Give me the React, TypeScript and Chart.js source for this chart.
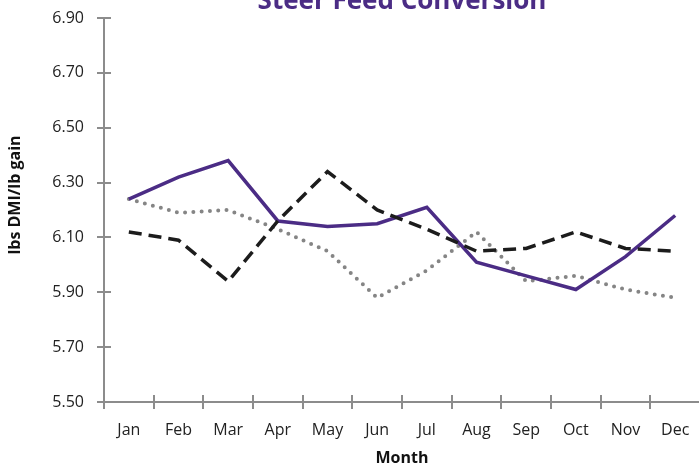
import React, { useEffect, useRef } from "react";
import { Chart, registerables } from "chart.js";

Chart.register(...registerables);

// Monthly feed conversion, lbs of dry matter intake per lb of gain
const months = ["Jan", "Feb", "Mar", "Apr", "May", "Jun", "Jul", "Aug", "Sep", "Oct", "Nov", "Dec"];
const seriesSolid = [6.24, 6.32, 6.38, 6.16, 6.14, 6.15, 6.21, 6.01, 5.96, 5.91, 6.03, 6.18];
const seriesDashed = [6.12, 6.09, 5.94, 6.16, 6.34, 6.2, 6.13, 6.05, 6.06, 6.12, 6.06, 6.05];
const seriesDotted = [6.24, 6.19, 6.2, 6.13, 6.05, 5.88, 5.98, 6.12, 5.94, 5.96, 5.91, 5.88];
const yTicks = [5.5, 5.7, 5.9, 6.1, 6.3, 6.5, 6.7, 6.9];

const chartTitle = "Steer Feed Conversion";
const yTitle = "lbs DMI/lb gain";
const xTitle = "Month";

const PURPLE = "#4b2c85";
const AXIS = "#8c8c8c";
const FONT = "'Open Sans', 'DejaVu Sans', sans-serif";

// Title, rotated y label and the inner half of the crossing tick marks
const decorations = {
  id: "decorations",
  afterDraw(chart: any) {
    const { ctx, chartArea, scales } = chart;
    const x = scales.x;
    const y = scales.y;
    ctx.save();
    ctx.strokeStyle = AXIS;
    ctx.lineWidth = 2;
    ctx.beginPath();
    y.ticks.forEach((_t: any, i: number) => {
      const py = Math.round(y.getPixelForTick(i));
      ctx.moveTo(chartArea.left, py);
      ctx.lineTo(chartArea.left + 7, py);
    });
    for (let i = 0; i <= months.length; i++) {
      const px = Math.round(x.getPixelForValue(i - 0.5));
      ctx.moveTo(px, chartArea.bottom);
      ctx.lineTo(px, chartArea.bottom - 7);
    }
    ctx.stroke();

    ctx.fillStyle = PURPLE;
    ctx.font = `bold 26px ${FONT}`;
    ctx.textAlign = "center";
    ctx.textBaseline = "alphabetic";
    ctx.fillText(chartTitle, (chartArea.left + chartArea.right) / 2, 9);

    ctx.translate(15, 195);
    ctx.rotate(-Math.PI / 2);
    ctx.fillStyle = "#111";
    ctx.font = `bold 16px ${FONT}`;
    ctx.textBaseline = "middle";
    ctx.fillText(yTitle, 0, 0);
    ctx.restore();
  },
};

export default function App() {
  const canvasRef = useRef<HTMLCanvasElement | null>(null);

  useEffect(() => {
    if (!canvasRef.current) return;
    const chart = new Chart(canvasRef.current, {
      type: "line",
      data: {
        labels: months,
        datasets: [
          {
            label: "Series 1",
            data: seriesSolid,
            borderColor: PURPLE,
            borderWidth: 3.5,
            pointRadius: 0,
            tension: 0,
            order: 1,
          },
          {
            label: "Series 2",
            data: seriesDashed,
            borderColor: "#1c1c1c",
            borderWidth: 3.5,
            borderDash: [13, 7],
            pointRadius: 0,
            tension: 0,
            order: 0,
          },
          {
            label: "Series 3",
            data: seriesDotted,
            borderColor: "#858585",
            borderWidth: 4,
            borderDash: [0, 8.3],
            borderCapStyle: "round",
            pointRadius: 0,
            tension: 0,
            order: 2,
          },
        ],
      },
      options: {
        responsive: false,
        animation: false,
        devicePixelRatio: 1,
        layout: { padding: { top: 18, right: 0, bottom: 0, left: 0 } },
        plugins: {
          legend: { display: false },
          title: { display: false },
          tooltip: { enabled: false },
        },
        scales: {
          x: {
            type: "category",
            offset: true,
            grid: {
              display: true,
              offset: true,
              drawOnChartArea: false,
              drawTicks: true,
              tickLength: 7,
              color: AXIS,
              lineWidth: 2,
            },
            border: { display: true, color: AXIS, width: 2 },
            ticks: {
              color: "#222",
              font: { family: FONT, size: 16 },
              padding: 12,
              maxRotation: 0,
              autoSkip: false,
            },
            title: {
              display: true,
              text: xTitle,
              color: "#111",
              font: { family: FONT, size: 16, weight: "bold" },
              padding: { top: 0, bottom: 0 },
            },
            afterFit(scale: any) {
              scale.height = 66;
              scale.paddingLeft = 0;
              scale.paddingRight = 0;
            },
          },
          y: {
            min: 5.5,
            max: 6.9,
            afterBuildTicks(scale: any) {
              scale.ticks = yTicks.map((v) => ({ value: v }));
            },
            grid: {
              display: true,
              drawOnChartArea: false,
              drawTicks: true,
              tickLength: 7,
              color: AXIS,
              lineWidth: 2,
            },
            border: { display: true, color: AXIS, width: 2 },
            ticks: {
              color: "#222",
              font: { family: FONT, size: 16 },
              padding: 13,
              callback: (v: any) => Number(v).toFixed(2),
            },
            afterFit(scale: any) {
              scale.width = 104;
              scale.paddingTop = 0;
              scale.paddingBottom = 0;
            },
          },
        },
      },
      plugins: [decorations],
    });
    return () => chart.destroy();
  }, []);

  return (
    <div
      style={{
        position: "fixed",
        left: 0,
        top: 0,
        width: 699,
        height: 468,
        overflow: "hidden",
        background: "#fff",
      }}
    >
      <canvas ref={canvasRef} width={700} height={468} style={{ display: "block" }} />
    </div>
  );
}
